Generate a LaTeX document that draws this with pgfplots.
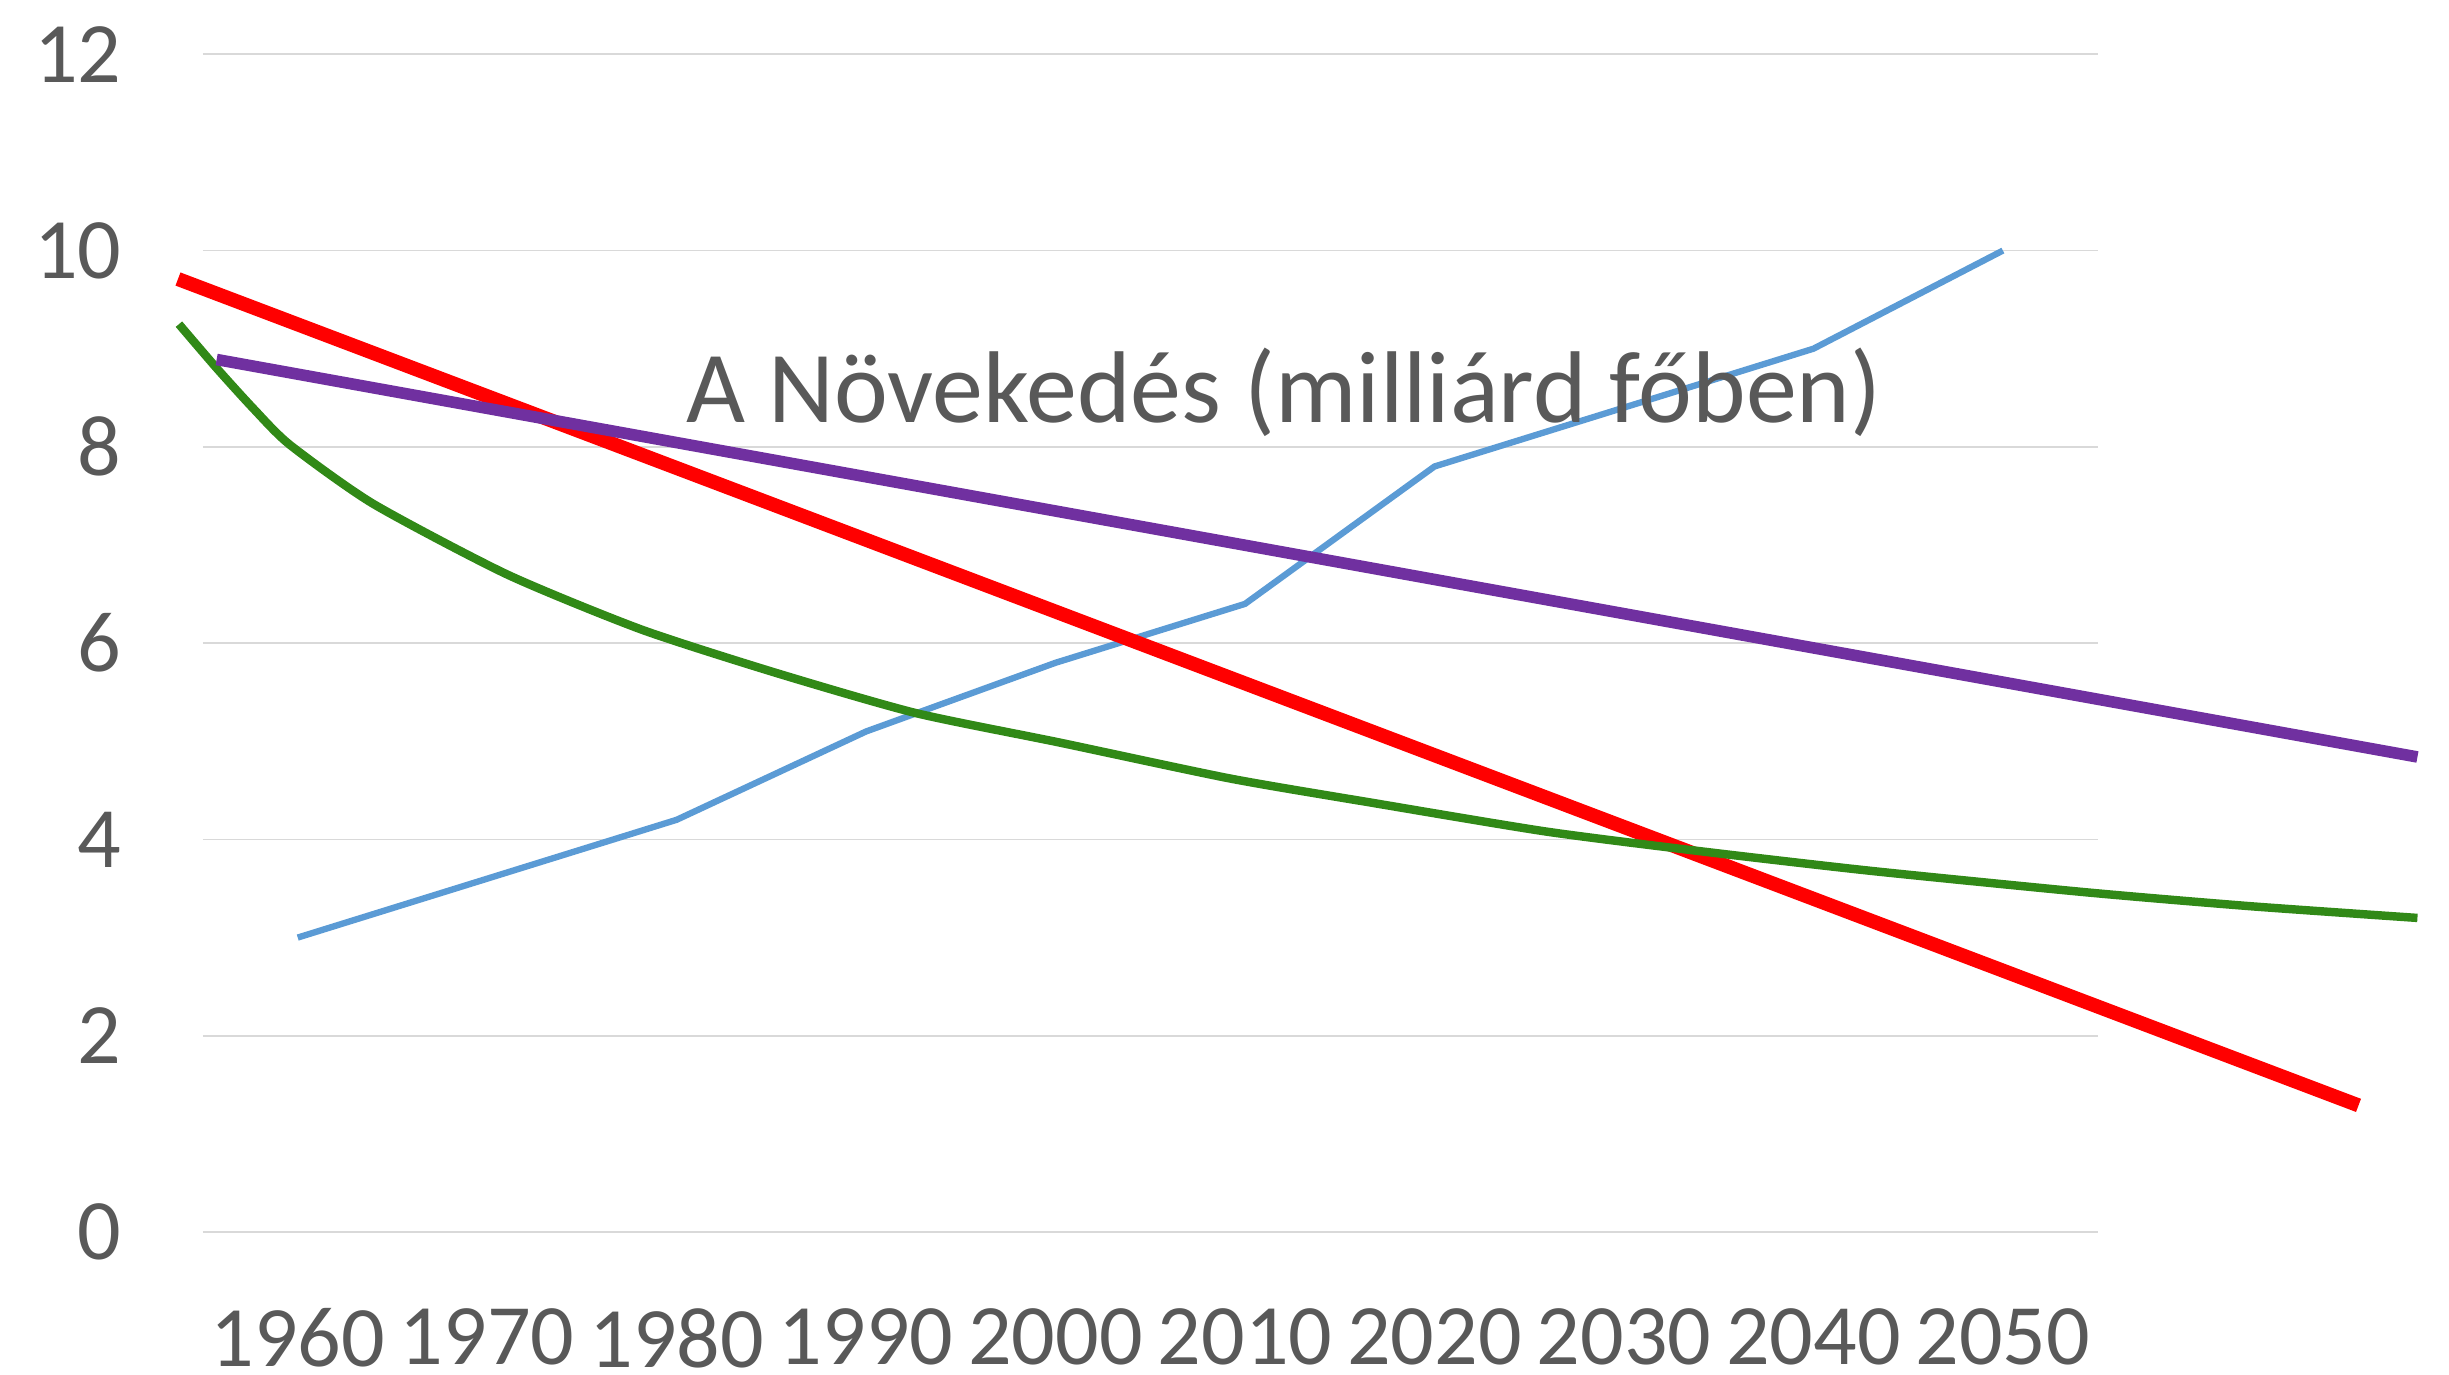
\documentclass[border=0pt]{standalone}
\usepackage{fontspec}
\setmainfont{Carlito}
\usepackage{pgfplots}
\pgfplotsset{compat=1.18}
\definecolor{txt}{RGB}{89,89,89}
\definecolor{gridc}{RGB}{217,217,217}
\definecolor{serblue}{RGB}{91,155,213}
\definecolor{trred}{RGB}{255,0,0}
\definecolor{trpurple}{RGB}{112,48,160}
\definecolor{trgreen}{RGB}{49,137,23}

\begin{document}
\begin{tikzpicture}
\begin{axis}[
    name=ax,
    scale only axis, width=18.946cm, height=11.777cm,
    xmin=0.5, xmax=10.5, ymin=0, ymax=12,
    xtick={1,...,10},
    xticklabels={1960,1970,1980,1990,2000,2010,2020,2030,2040,2050},
    ytick={0,2,...,12},
    ymajorgrids, grid style={gridc, line width=0.5pt},
    axis line style={draw=none}, major tick style={draw=none},
    ticklabel style={font=\fontsize{24.5}{29}\selectfont, text=txt, inner sep=0pt},
    xticklabel style={anchor=north, yshift=-0.76cm},
    yticklabel style={anchor=east, xshift=-0.81cm},
    /pgf/number format/assume math mode=true,
    clip=false,
]
% data series
\addplot[serblue, line width=1.8pt] coordinates {
    (1,3.0) (2,3.6) (3,4.2) (4,5.1) (5,5.8)
    (6,6.4) (7,7.8) (8,8.4) (9,9.0) (10,10.0)
};
% linear trend (red)
\addplot[trred, line width=4pt] coordinates {(0.368,9.71) (11.877,1.29)};
% curved trend (green)
\addplot[trgreen, line width=2.4pt, smooth, tension=0.4] coordinates {
    (0.373,9.25) (0.573,8.80) (0.766,8.39) (0.959,8.02) (1.398,7.42) (2.105,6.70)
    (2.812,6.14) (3.519,5.70) (4.257,5.29) (5.014,4.99) (5.923,4.62)
    (6.681,4.37) (7.590,4.08) (8.402,3.88) (9.302,3.68) (10.446,3.46)
    (11.303,3.32) (12.188,3.20)
};
% linear trend (purple)
\addplot[trpurple, line width=3.3pt] coordinates {(0.572,8.89) (12.188,4.84)};

\node[anchor=base, font=\fontsize{29}{34}\selectfont, text=txt, inner sep=0pt]
    at (axis cs:6.205,8.25) {A Növekedés (milliárd főben)};
\end{axis}
\path ([shift={(-2.03cm,-1.43cm)}]ax.south west) rectangle ++(24.49cm,13.75cm);
\end{tikzpicture}
\end{document}
